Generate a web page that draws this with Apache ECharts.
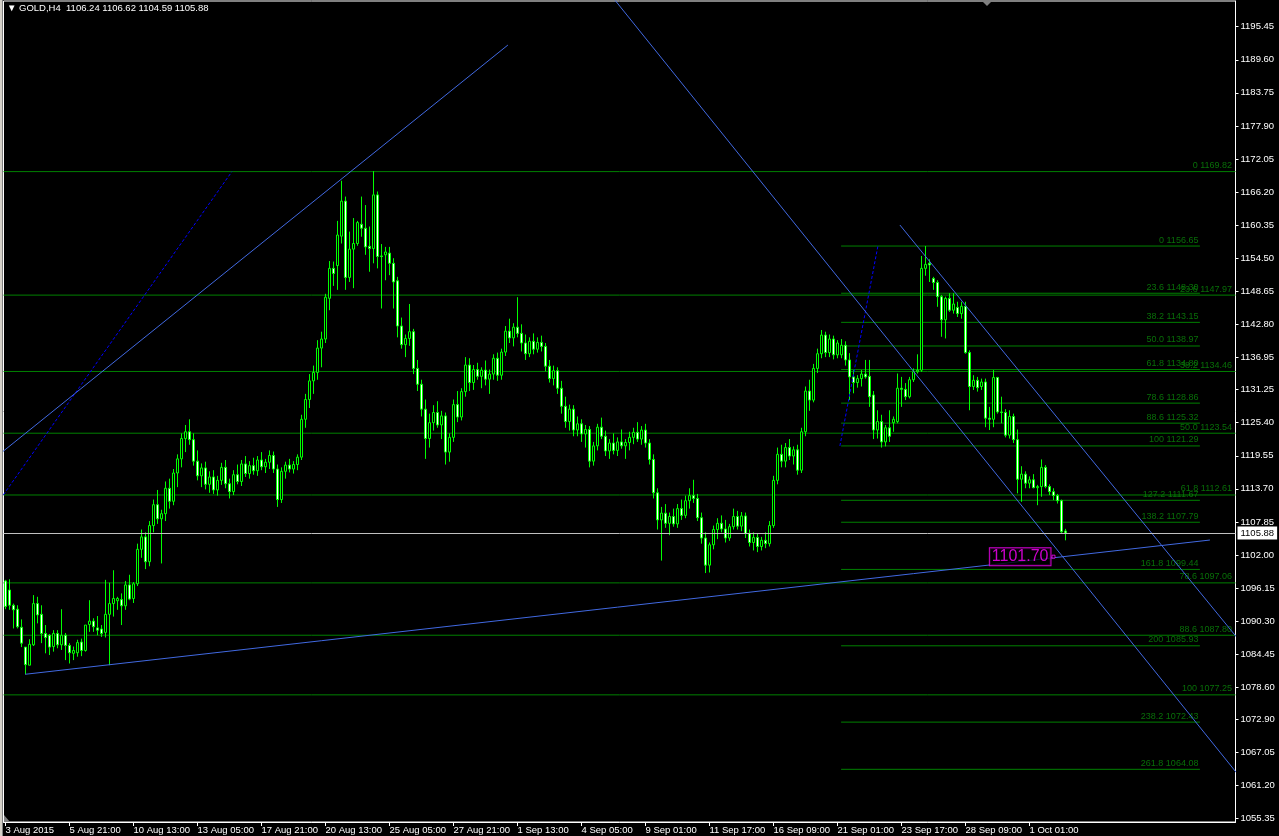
<!DOCTYPE html>
<html><head><meta charset="utf-8">
<script src="https://cdn.jsdelivr.net/npm/echarts@6/dist/echarts.min.js"></script>
<style>html,body{margin:0;padding:0;background:#000;overflow:hidden}#c{width:1279px;height:836px}</style>
</head><body><div id="c"></div>
<script>
// ---------- DATA ----------
const symbol = 'GOLD,H4';
const tickStep = 16;
const tickLabels = ['3 Aug 2015','5 Aug 21:00','10 Aug 13:00','13 Aug 05:00','17 Aug 21:00','20 Aug 13:00','25 Aug 05:00','27 Aug 21:00','1 Sep 13:00','4 Sep 05:00','9 Sep 01:00','11 Sep 17:00','16 Sep 09:00','21 Sep 01:00','23 Sep 17:00','28 Sep 09:00','1 Oct 01:00'];
const priceTicks = [1195.45,1189.60,1183.75,1177.90,1172.05,1166.20,1160.35,1154.50,1148.65,1142.80,1136.95,1131.25,1125.40,1119.55,1113.70,1107.85,1102.00,1096.15,1090.30,1084.45,1078.60,1072.90,1067.05,1061.20,1055.35];
// bars: [open, high, low, close]
const ohlc = [
[1097.4,1097.6,1092.4,1092.9],[1095.8,1097.7,1092.3,1093.1],[1093.1,1093.4,1089.0,1092.3],[1092.4,1093.1,1089.0,1089.3],
[1089.2,1090.6,1085.7,1086.4],[1085.7,1085.7,1080.9,1082.6],[1082.5,1087.1,1082.5,1086.2],[1086.1,1094.9,1085.9,1093.4],
[1093.4,1094.6,1089.9,1091.4],[1091.5,1093.1,1086.4,1088.1],[1088.1,1089.6,1084.6,1087.4],[1087.8,1088.0,1084.3,1085.7],
[1085.8,1088.7,1084.9,1088.1],[1088.1,1088.7,1085.5,1086.1],[1086.1,1092.4,1085.2,1087.8],[1087.8,1088.2,1083.4,1086.0],
[1086.0,1086.4,1082.8,1084.7],[1084.6,1085.8,1083.4,1085.1],[1084.7,1087.0,1084.0,1086.5],[1086.6,1087.2,1084.1,1085.1],
[1085.1,1089.6,1084.9,1089.6],[1089.7,1094.0,1088.4,1090.3],[1090.3,1090.8,1088.4,1089.3],[1089.1,1091.2,1087.8,1088.7],
[1088.9,1089.6,1087.5,1088.1],[1088.3,1097.6,1087.4,1091.5],[1091.5,1097.1,1082.5,1093.4],[1093.4,1099.3,1091.1,1094.3],
[1093.9,1094.6,1092.3,1094.3],[1094.1,1095.2,1089.6,1093.0],[1093.0,1097.4,1092.3,1096.7],[1096.7,1098.5,1094.0,1094.2],
[1094.3,1097.2,1093.5,1096.9],[1096.9,1104.0,1096.5,1103.0],[1103.0,1106.5,1101.5,1105.2],[1105.2,1106.0,1099.5,1100.8],
[1100.8,1108.0,1100.0,1107.2],[1107.2,1111.8,1106.0,1110.9],[1110.9,1113.5,1107.5,1108.4],[1108.4,1110.0,1100.5,1109.3],
[1109.3,1115.0,1108.0,1113.8],[1113.8,1115.5,1110.2,1111.5],[1111.5,1117.2,1110.8,1116.5],[1116.5,1119.8,1114.0,1119.0],
[1119.0,1123.5,1117.5,1122.6],[1122.6,1125.0,1120.2,1123.8],[1123.8,1126.0,1121.5,1122.4],[1122.4,1123.5,1117.8,1118.6],
[1118.6,1120.5,1115.2,1116.0],[1116.0,1118.2,1114.0,1117.4],[1117.4,1118.5,1113.6,1114.5],[1114.5,1116.8,1113.0,1115.8],
[1115.8,1117.0,1112.8,1113.5],[1113.5,1116.0,1112.5,1115.2],[1115.2,1118.3,1114.4,1117.5],[1117.5,1118.8,1113.8,1114.6],
[1114.6,1115.5,1112.0,1113.2],[1113.2,1117.0,1112.6,1116.2],[1116.2,1118.0,1114.5,1115.0],[1115.0,1118.8,1114.2,1118.1],
[1118.1,1119.5,1115.8,1116.4],[1116.4,1118.6,1115.5,1117.8],[1117.8,1119.2,1116.2,1116.9],[1116.9,1119.5,1116.0,1118.8],
[1118.8,1120.2,1117.0,1117.6],[1117.6,1119.0,1116.5,1118.4],[1118.4,1120.5,1117.2,1119.6],[1119.6,1120.3,1116.5,1117.2],
[1117.2,1118.0,1110.5,1111.8],[1111.8,1117.5,1111.2,1116.8],[1116.8,1118.5,1115.5,1117.9],[1117.9,1119.0,1116.6,1117.2],
[1117.2,1118.6,1116.4,1118.0],[1118.0,1119.8,1117.0,1119.3],[1119.3,1126.8,1118.8,1126.0],[1126.0,1130.5,1124.5,1129.5],
[1129.5,1134.0,1128.0,1132.8],[1132.8,1135.5,1130.5,1134.3],[1134.3,1140.0,1133.0,1138.6],[1138.6,1141.5,1135.2,1140.2],
[1140.2,1148.2,1139.5,1147.6],[1147.4,1154.0,1145.3,1152.7],[1152.7,1153.9,1149.6,1151.8],[1153.2,1161.1,1148.9,1158.6],
[1158.4,1168.2,1157.1,1164.6],[1164.6,1165.4,1148.9,1151.1],[1151.1,1159.2,1150.3,1156.1],[1156.1,1161.6,1149.2,1157.1],
[1157.1,1161.1,1156.7,1160.8],[1160.5,1165.4,1158.3,1159.8],[1159.8,1163.9,1155.1,1156.5],[1156.6,1160.1,1152.1,1156.2],
[1156.2,1169.9,1153.6,1165.7],[1165.7,1166.3,1152.7,1154.8],[1154.9,1157.0,1145.6,1154.8],[1155.1,1156.5,1150.6,1155.6],
[1155.4,1156.5,1151.5,1153.6],[1153.6,1154.5,1145.6,1150.3],[1150.5,1151.2,1140.5,1142.5],[1142.5,1144.0,1138.5,1139.2],
[1139.2,1141.0,1137.0,1140.3],[1140.3,1146.4,1139.0,1141.5],[1141.5,1142.0,1134.0,1135.0],[1135.0,1136.5,1131.0,1132.2],
[1132.2,1133.0,1126.5,1127.8],[1127.8,1129.5,1119.0,1122.6],[1122.6,1127.0,1121.0,1125.4],[1125.4,1128.5,1124.0,1127.2],
[1127.2,1129.2,1124.5,1125.0],[1125.0,1127.5,1122.5,1126.6],[1126.6,1127.2,1118.0,1120.2],[1120.2,1123.5,1118.5,1122.8],
[1122.8,1129.5,1122.0,1128.6],[1128.6,1131.0,1125.5,1126.4],[1126.4,1131.5,1125.8,1130.9],[1130.9,1137.0,1130.0,1135.6],
[1135.6,1136.8,1131.0,1132.5],[1132.5,1135.6,1131.2,1134.8],[1134.8,1136.0,1133.0,1133.6],[1133.6,1135.2,1131.5,1134.7],
[1134.7,1136.4,1132.0,1133.1],[1133.1,1134.8,1130.5,1134.0],[1134.0,1137.5,1133.0,1136.8],[1136.8,1137.8,1132.8,1133.8],
[1133.8,1138.5,1133.0,1137.9],[1137.9,1142.5,1137.2,1141.6],[1141.6,1143.8,1139.5,1140.4],[1140.4,1143.0,1138.9,1142.3],
[1142.3,1147.6,1140.5,1141.2],[1141.2,1142.8,1138.0,1139.5],[1139.5,1141.0,1136.5,1137.6],[1137.6,1140.5,1137.0,1139.8],
[1139.8,1141.2,1137.5,1138.4],[1138.4,1140.5,1137.8,1139.6],[1139.6,1140.8,1138.0,1138.9],[1138.9,1139.5,1134.5,1135.4],
[1135.4,1136.5,1132.5,1133.2],[1133.2,1135.5,1132.0,1134.6],[1134.6,1135.2,1130.5,1131.5],[1131.5,1132.8,1127.0,1128.3],
[1128.3,1130.0,1124.5,1125.6],[1125.6,1128.6,1124.0,1127.8],[1127.8,1128.5,1123.0,1124.1],[1124.1,1126.5,1123.0,1125.2],
[1125.2,1126.0,1122.0,1123.4],[1123.4,1125.0,1121.0,1124.2],[1124.2,1124.8,1117.5,1118.6],[1118.6,1122.0,1117.8,1121.3],
[1121.3,1125.2,1120.5,1124.6],[1124.6,1126.3,1122.5,1123.0],[1123.0,1124.0,1119.5,1120.4],[1120.4,1122.5,1119.0,1121.8],
[1121.8,1123.5,1119.8,1120.5],[1120.5,1122.8,1119.5,1122.0],[1122.0,1124.2,1120.8,1121.3],[1121.3,1122.5,1119.0,1121.9],
[1121.9,1123.8,1120.5,1122.8],[1122.8,1124.5,1121.6,1123.7],[1123.7,1125.5,1122.0,1122.5],[1122.5,1124.8,1121.5,1124.1],
[1124.1,1125.2,1121.0,1121.8],[1121.8,1122.5,1118.0,1118.9],[1118.9,1119.8,1112.0,1113.0],[1113.0,1113.8,1106.5,1108.2],
[1108.2,1110.5,1101.0,1109.4],[1109.4,1111.0,1106.8,1107.6],[1107.6,1109.5,1105.5,1108.8],[1108.8,1110.2,1107.0,1107.5],
[1107.5,1111.0,1106.8,1110.2],[1110.2,1111.8,1108.2,1109.0],[1109.0,1112.5,1108.5,1111.6],[1111.6,1113.8,1110.2,1112.5],
[1112.5,1115.3,1111.2,1112.0],[1112.0,1112.8,1108.0,1108.6],[1108.6,1109.5,1104.0,1105.0],[1105.0,1106.0,1098.8,1100.2],
[1100.2,1104.2,1098.9,1103.8],[1103.8,1107.2,1103.0,1106.5],[1106.5,1108.5,1104.8,1107.6],[1107.6,1109.0,1106.0,1106.6],
[1106.6,1108.2,1104.2,1105.0],[1105.0,1107.5,1104.5,1107.0],[1107.0,1110.2,1106.5,1108.8],[1108.8,1109.8,1106.5,1107.1],
[1107.1,1109.6,1106.2,1108.9],[1108.9,1109.5,1105.0,1105.8],[1105.8,1106.5,1103.5,1104.2],[1104.2,1106.0,1102.8,1105.1],
[1105.1,1105.8,1102.5,1103.5],[1103.5,1105.2,1102.8,1104.6],[1104.6,1106.0,1103.2,1104.0],[1104.0,1108.0,1103.5,1107.2],
[1107.2,1116.0,1106.8,1115.2],[1115.2,1121.0,1114.5,1119.8],[1119.8,1121.5,1117.5,1118.6],[1118.6,1121.8,1117.5,1121.0],
[1121.0,1122.5,1118.8,1119.5],[1119.5,1121.2,1118.0,1120.6],[1120.6,1121.5,1116.2,1117.0],[1117.0,1124.5,1116.5,1123.8],
[1123.8,1131.8,1123.0,1131.0],[1131.0,1133.0,1127.5,1129.4],[1129.4,1135.8,1129.0,1135.0],[1135.0,1138.5,1134.2,1137.6],
[1137.6,1141.8,1136.8,1140.9],[1140.9,1141.5,1137.0,1137.8],[1137.8,1141.0,1137.0,1140.2],[1140.2,1140.8,1136.6,1137.4],
[1137.4,1140.0,1136.8,1139.5],[1137.4,1140.2,1136.8,1139.1],[1139.1,1139.8,1135.5,1136.5],[1136.5,1137.7,1129.4,1133.5],
[1133.5,1134.7,1130.6,1132.5],[1132.5,1133.8,1131.6,1133.2],[1133.2,1134.7,1131.8,1134.0],[1134.0,1136.5,1133.2,1133.5],
[1133.6,1136.5,1128.2,1130.0],[1130.3,1131.0,1122.5,1124.1],[1124.1,1127.6,1122.6,1125.6],[1125.6,1126.8,1121.0,1122.0],
[1122.0,1125.0,1121.2,1124.5],[1124.5,1127.6,1122.0,1123.0],[1125.4,1126.5,1123.8,1126.0],[1125.6,1134.1,1125.3,1131.5],
[1131.5,1133.5,1128.2,1131.3],[1131.3,1132.4,1129.4,1130.0],[1130.0,1133.5,1129.7,1133.0],[1133.0,1135.0,1132.6,1134.4],
[1134.4,1137.5,1134.1,1134.7],[1134.7,1154.9,1134.4,1152.7],[1152.7,1156.65,1151.4,1153.4],[1153.6,1154.3,1150.3,1153.3],
[1150.9,1151.2,1148.9,1150.2],[1150.2,1150.6,1145.9,1147.7],[1147.7,1148.0,1140.6,1143.6],[1143.6,1147.7,1140.3,1147.4],
[1147.4,1148.3,1145.0,1145.3],[1145.3,1148.3,1144.7,1146.4],[1145.8,1146.8,1144.1,1144.7],[1144.7,1146.8,1143.8,1146.0],
[1146.0,1146.8,1137.6,1137.8],[1137.8,1138.2,1127.6,1131.8],[1131.8,1133.8,1131.2,1132.9],[1132.9,1133.5,1130.9,1131.6],
[1131.8,1133.2,1131.2,1132.6],[1132.6,1133.2,1124.6,1126.2],[1126.2,1128.2,1124.1,1126.0],[1126.0,1134.7,1124.6,1133.4],
[1133.4,1133.5,1127.0,1127.3],[1127.3,1130.0,1125.3,1127.2],[1127.2,1127.8,1122.8,1123.2],[1123.2,1127.6,1122.6,1126.5],
[1126.5,1127.0,1121.8,1122.4],[1122.4,1124.2,1112.9,1115.4],[1115.4,1117.7,1111.4,1116.3],[1116.3,1116.8,1113.8,1114.7],
[1114.7,1115.9,1113.8,1115.3],[1115.3,1116.3,1113.8,1113.9],[1113.9,1114.4,1110.8,1114.1],[1114.1,1118.9,1112.3,1117.5],
[1117.5,1117.9,1113.8,1114.1],[1114.1,1114.5,1112.6,1113.2],[1113.2,1113.8,1111.7,1112.5],[1112.5,1112.8,1111.1,1111.6],
[1111.6,1111.8,1105.9,1106.1],[1106.24,1106.62,1104.59,1105.88]
];
const slotCount = 308; // bars + empty right shift area
// Fibonacci objects: level names and prices
const fibALevels = ['0','23.6','38.2','50.0','61.8','78.6','88.6','100'];
const fibAPrices = [1169.82,1147.97,1134.46,1123.54,1112.61,1097.06,1087.80,1077.25];
const fibBLevels = ['0','23.6','38.2','50.0','61.8','78.6','88.6','100','127.2','138.2','161.8','200','238.2','261.8'];
const fibBPrices = [1156.65,1148.30,1143.15,1138.97,1134.80,1128.86,1125.32,1121.29,1111.67,1107.79,1099.44,1085.93,1072.43,1064.08];
const fibBSpan = [208.9, 298.6];           // bar index range of fib B levels
// drawing objects: [barIndex, price]
const fibAAnchor = [[-35.9,1077.25],[56.6,1169.82]];
const fibBAnchor = [[208.6,1121.29],[218.1,1156.65]];
const trendUpper = [[-6.4,1117.03],[125.6,1192.21]];
const trendDown = [[148.6,1203.46],[313.6,1058.33]];
const trendChannel = [[223.6,1160.37],[313.6,1082.42]];
const trendSupport = [[4.9,1080.89],[301.1,1104.64]];
const priceLabel = [[262.0,1101.70]];

// ---------- CHART ----------
const FONT = "'Liberation Sans', Arial, sans-serif";
const FIB_COLOR = '#008000';
const FIB_TEXT = '#0a8a0a';
const last = ohlc[ohlc.length-1];
const slots = Array.from({length: slotCount}, (_, i) => i);
const candleData = ohlc.map(r => [r[0], r[3], r[2], r[1]]);
const showTick = (i) => i % tickStep === 0 && i / tickStep < tickLabels.length;
const xMin = -0.5, xMax = slotCount - 0.5;

function lineSeries(data, color, type, z) {
  return {type: 'line', xAxisIndex: 1, data: data, showSymbol: false, symbol: 'none', clip: true, silent: true,
    animation: false, z: z || 4, lineStyle: {color: color, width: 1, type: type || 'solid'}};
}
function fibSet(levels, prices, x0, x1, off) {
  const out = prices.map(p => lineSeries([[x0, p], [x1, p]], FIB_COLOR, 'solid', 2));
  out.push({
    type: 'scatter', xAxisIndex: 1, silent: true, animation: false, z: 2, clip: false,
    symbol: 'rect', symbolSize: 1, itemStyle: {color: 'rgba(0,0,0,0)'},
    data: prices.map((p, i) => ({value: [x1, p], name: levels[i] + ' ' + p.toFixed(2)})),
    label: {show: true, position: [0, 0], align: 'right', verticalAlign: 'bottom', offset: off, formatter: '{b}',
      color: FIB_TEXT, fontSize: 9, fontFamily: FONT}
  });
  return out;
}

const chart = echarts.init(document.getElementById('c'), null, {renderer: 'canvas'});
chart.setOption({
  backgroundColor: '#000',
  animation: false,
  grid: {left: 3.5, top: 1, width: 1232, height: 821, show: true, borderColor: '#fff', borderWidth: 1, containLabel: false},
  xAxis: [{
    type: 'category', data: slots, boundaryGap: true,
    axisLine: {show: true, onZero: false, lineStyle: {color: '#fff', width: 1}},
    axisTick: {show: true, alignWithLabel: true, interval: showTick, length: 4, lineStyle: {color: '#fff'}},
    axisLabel: {show: true, interval: showTick, formatter: (v, i) => tickLabels[i / tickStep] || '', align: 'left',
      color: '#fff', fontSize: 9.5, fontFamily: FONT, margin: 3},
    splitLine: {show: false}
  }, {
    type: 'value', min: xMin, max: xMax, show: false, gridIndex: 0,
    axisLine: {show: false, onZero: false}, axisTick: {show: false}, axisLabel: {show: false}, splitLine: {show: false}
  }],
  yAxis: {
    type: 'value', position: 'right', min: 1054.76, max: 1200.0, scale: true,
    axisLine: {show: true, onZero: false, lineStyle: {color: '#fff'}},
    axisTick: {show: true, customValues: priceTicks, length: 3, lineStyle: {color: '#fff'}},
    axisLabel: {show: true, customValues: priceTicks, formatter: v => v.toFixed(2), color: '#fff', fontSize: 9.5, fontFamily: FONT, margin: 5},
    splitLine: {show: false}
  },
  series: [
    {
      type: 'candlestick', xAxisIndex: 0, data: candleData, barWidth: 2, z: 3, silent: true, clip: true,
      itemStyle: {color: '#000', color0: '#fff', borderColor: '#00ff00', borderColor0: '#00ff00', borderColorDoji: '#00ff00', borderWidth: 1},
      markLine: {
        silent: true, symbol: ['none', 'none'], animation: false,
        lineStyle: {color: '#c0c0c0', width: 1, type: 'solid'},
        label: {show: true, position: 'end', distance: 2, formatter: () => last[3].toFixed(2), backgroundColor: '#fff', color: '#000',
          padding: [2, 3, 1, 3], fontSize: 9.5, fontFamily: FONT},
        data: [{yAxis: last[3]}]
      }
    },
    ...fibSet(fibBLevels, fibBPrices, fibBSpan[0], fibBSpan[1], [-1, -1]),
    ...fibSet(fibALevels, fibAPrices, xMin, xMax, [-3, -1]),
    lineSeries(fibAAnchor, '#0000ff', [3, 2]),
    lineSeries(fibBAnchor, '#0000ff', [3, 2]),
    lineSeries(trendUpper, '#4169e1'),
    lineSeries(trendDown, '#4169e1'),
    lineSeries(trendChannel, '#4169e1'),
    lineSeries(trendSupport, '#4169e1'),
    {
      type: 'scatter', xAxisIndex: 1, data: priceLabel, symbol: 'rect', symbolSize: 3, silent: true, z: 5,
      itemStyle: {color: '#000', borderColor: '#ff00ff', borderWidth: 1},
      label: {show: true, position: 'left', distance: 1, formatter: p => p.value[1].toFixed(2), color: '#ff00ff',
        fontSize: 16, fontFamily: FONT, borderColor: '#ff00ff', borderWidth: 1, padding: [1, 2, 0, 2], backgroundColor: '#000'}
    }
  ],
  graphic: [
    {type: 'rect', left: 0, top: 0, shape: {width: 2, height: 836}, style: {fill: '#d4d0c8'}, silent: true},
    {type: 'rect', left: 2, top: 0, shape: {width: 1, height: 836}, style: {fill: '#808080'}, silent: true},
    {type: 'text', left: 7, top: 3, silent: true, z: 10,
      style: {text: '\u25BC ' + symbol + '  ' + last.map(v => v.toFixed(2)).join(' '), fill: '#fff', fontSize: 9.5, fontFamily: FONT}},
    {type: 'polygon', silent: true, shape: {points: [[982, 1], [992, 1], [987, 6]]}, style: {fill: '#808080'}},
    {type: 'polygon', silent: true, shape: {points: [[4, 815], [4, 822], [10, 822]]}, style: {fill: '#808080'}}
  ]
});
</script>
</body></html>
